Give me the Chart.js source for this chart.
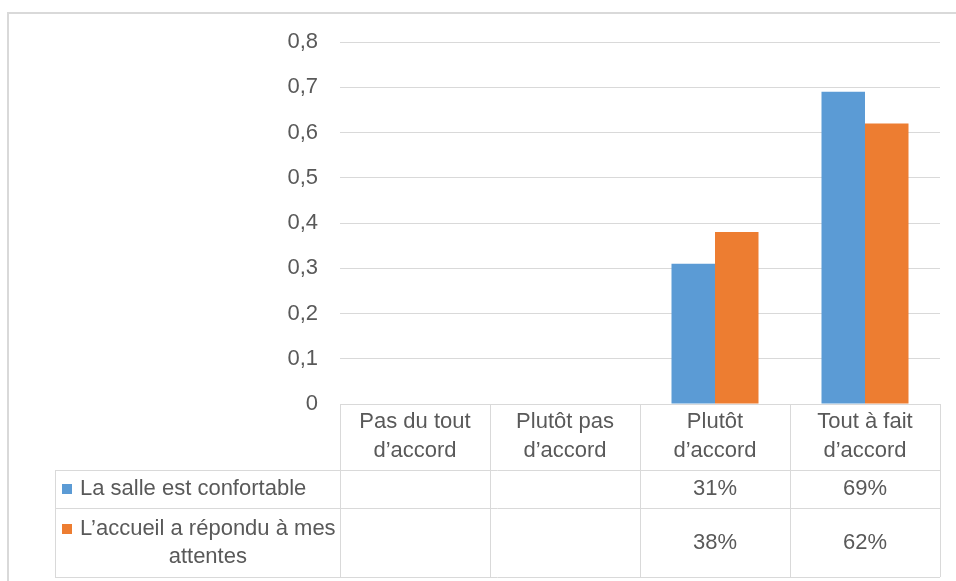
<!DOCTYPE html>
<html>
<head>
<meta charset="utf-8">
<script src="https://cdn.jsdelivr.net/npm/chart.js@4/dist/chart.umd.min.js"></script>
<style>
  html, body { margin: 0; padding: 0; background: #ffffff; }
  #wrap { width: 956px; height: 581px; }
</style>
</head>
<body>
<div id="wrap"><canvas id="bar-chartcanvas-1" width="956" height="581"></canvas></div>
<script>
var categories = [
    ["Pas du tout", "d’accord"],
    ["Plutôt pas", "d’accord"],
    ["Plutôt", "d’accord"],
    ["Tout à fait", "d’accord"]
];
var seriesLabels = [
    ["La salle est confortable"],
    ["L’accueil a répondu à mes", "attentes"]
];
var salleValues = [null, null, 0.31, 0.69];
var accueilValues = [null, null, 0.38, 0.62];
var yTicks = [0, 0.1, 0.2, 0.3, 0.4, 0.5, 0.6, 0.7, 0.8];

var textColor = "#595959";
var lineColor = "#d9d9d9";
var fontFamily = "'Liberation Sans', Arial, sans-serif";

// the data table drawn under the plot, using the x scale for columns
var dataTable = {
    id : "dataTable",
    beforeDraw : function(chart) {
        var ctx = chart.ctx;
        ctx.save();
        ctx.strokeStyle = lineColor;
        ctx.lineWidth = 2;
        ctx.beginPath();
        ctx.moveTo(8, 581);
        ctx.lineTo(8, 13);
        ctx.lineTo(956, 13);
        ctx.stroke();
        ctx.restore();
    },
    afterDraw : function(chart) {
        var ctx = chart.ctx;
        var x = chart.scales.x;
        var area = chart.chartArea;
        var colW = (area.right - area.left) / categories.length;
        var top = area.bottom;
        var row1 = 470, row2 = 508, bottom = 577, left = 55;

        ctx.save();
        ctx.strokeStyle = lineColor;
        ctx.lineWidth = 1;
        ctx.beginPath();
        for (var i = 0; i <= categories.length; i++) {
            var vx = Math.round(area.left + i * colW) + 0.5;
            ctx.moveTo(vx, top);
            ctx.lineTo(vx, bottom);
        }
        [row1, row2, bottom].forEach(function(y) {
            ctx.moveTo(left, y + 0.5);
            ctx.lineTo(area.right, y + 0.5);
        });
        ctx.moveTo(left + 0.5, row1);
        ctx.lineTo(left + 0.5, bottom);
        ctx.stroke();

        ctx.fillStyle = textColor;
        ctx.font = "22px " + fontFamily;
        ctx.textAlign = "center";
        ctx.textBaseline = "middle";

        // header: category names
        for (var c = 0; c < categories.length; c++) {
            var cx = x.getPixelForValue(c);
            ctx.fillText(categories[c][0], cx, 422);
            ctx.fillText(categories[c][1], cx, 451);
        }

        // one row per series
        var rows = [
            { values : salleValues, color : chart.data.datasets[0].backgroundColor, y : 489, lines : seriesLabels[0] },
            { values : accueilValues, color : chart.data.datasets[1].backgroundColor, y : 543, lines : seriesLabels[1] }
        ];
        rows.forEach(function(r) {
            var ly = r.lines.length > 1 ? r.y - 14 : r.y;
            var textX = 80;
            var firstW = ctx.measureText(r.lines[0]).width;
            ctx.fillStyle = r.color;
            ctx.fillRect(62, ly - 5, 10, 10);
            ctx.fillStyle = textColor;
            r.lines.forEach(function(t, k) {
                ctx.fillText(t, textX + firstW / 2, ly + k * 28);
            });
            r.values.forEach(function(v, c) {
                if (v === null) return;
                ctx.fillText(Math.round(v * 100) + "%", x.getPixelForValue(c), r.y);
            });
        });
        ctx.restore();
    }
};

var ctx1 = document.getElementById("bar-chartcanvas-1");

var data1 = {
    labels : categories,
    datasets : [
        {
            label : seriesLabels[0].join(" "),
            data : salleValues,
            backgroundColor : "#5B9BD5",
            categoryPercentage : 0.58,
            barPercentage : 1.0
        },
        {
            label : seriesLabels[1].join(" "),
            data : accueilValues,
            backgroundColor : "#ED7D31",
            categoryPercentage : 0.58,
            barPercentage : 1.0
        }
    ]
};

var options1 = {
    responsive : false,
    animation : false,
    devicePixelRatio : 1,
    layout : {
        padding : { left : 0, right : 16, top : 42, bottom : 177 }
    },
    plugins : {
        legend : { display : false },
        tooltip : { enabled : false },
        title : { display : false }
    },
    scales : {
        x : {
            display : false
        },
        y : {
            min : 0,
            max : 0.8,
            afterFit : function(scale) { scale.width = 340; },
            afterBuildTicks : function(scale) {
                scale.ticks = yTicks.map(function(v) { return { value : v }; });
            },
            ticks : {
                padding : 22,
                color : textColor,
                font : { family : fontFamily, size : 22 },
                callback : function(v) {
                    return v === 0 ? "0" : Number(v).toFixed(1).replace(".", ",");
                }
            },
            grid : {
                color : lineColor,
                lineWidth : 1,
                drawTicks : false
            },
            border : { display : false }
        }
    }
};

var chart1 = new Chart(ctx1, {
    type : "bar",
    data : data1,
    options : options1,
    plugins : [dataTable]
});
</script>
</body>
</html>
